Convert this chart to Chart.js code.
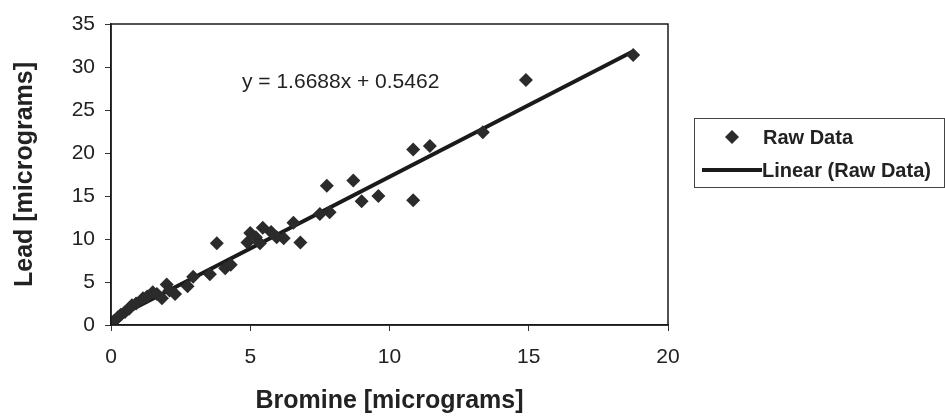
<!DOCTYPE html>
<html>
<head>
<meta charset="utf-8">
<script src="https://cdn.jsdelivr.net/npm/chart.js@4/dist/chart.umd.min.js"></script>
<style>
  html, body { margin: 0; padding: 0; background: #ffffff; }
  #wrap { width: 945px; height: 419px; }
</style>
</head>
<body>
<div id="wrap"><canvas id="chart" width="945" height="419"></canvas></div>
<script>
// Bromine (x) vs lead (y), micrograms
const bromine = [0, 0.05, 0.12, 0.25, 0.35, 0.5, 0.65, 0.75, 0.9, 1.15, 1.3, 1.5, 1.65, 1.83, 2.0, 2.1, 2.3,
  2.75, 2.95, 3.55, 3.8, 4.1, 4.3, 4.9, 5.0, 5.2, 5.35, 5.45, 5.75, 5.95, 6.2, 6.55, 6.8, 7.5, 7.75, 7.85,
  8.7, 9.0, 9.6, 10.85, 10.85, 11.45, 13.35, 14.9, 18.75];
const lead = [0, 0.3, 0.5, 0.9, 1.2, 1.5, 1.9, 2.3, 2.5, 3.1, 3.3, 3.8, 3.6, 3.1, 4.7, 4.0, 3.6,
  4.5, 5.6, 5.9, 9.5, 6.6, 7.0, 9.6, 10.7, 10.2, 9.5, 11.3, 10.8, 10.2, 10.1, 11.9, 9.6, 12.9, 16.2, 13.1,
  16.8, 14.4, 15.0, 20.4, 14.5, 20.8, 22.4, 28.5, 31.4];

// Excel trendline
const trendSlope = 1.6688;
const trendIntercept = 0.5462;
const trendRange = [0, 18.7];

const xTicks = [0, 5, 10, 15, 20];
const yTicks = [0, 5, 10, 15, 20, 25, 30, 35];

const FONT = "'Liberation Sans', Arial, sans-serif";
const INK = "#222222";

const rawPoints = bromine.map((b, i) => ({ x: b, y: lead[i] }));
const trendPoints = trendRange.map(x => ({ x: x, y: trendSlope * x + trendIntercept }));

// box round the plot, equation label and the framed legend on the right
const extras = {
  id: "extras",
  afterDraw(chart) {
    const ctx = chart.ctx;
    const a = chart.chartArea;
    ctx.save();
    ctx.strokeStyle = "#1a1a1a";
    ctx.lineWidth = 1.5;
    ctx.strokeRect(a.left, a.top, a.right - a.left, a.bottom - a.top);

    ctx.fillStyle = INK;
    ctx.font = "21px " + FONT;
    ctx.textAlign = "left";
    ctx.textBaseline = "middle";
    ctx.fillText(`y = ${trendSlope}x + ${trendIntercept}`, 242, 82);

    // legend
    ctx.strokeStyle = "#444444";
    ctx.lineWidth = 1;
    ctx.strokeRect(694.5, 118.5, 250, 69);
    ctx.fillStyle = "#2b2b2b";
    ctx.beginPath();
    ctx.moveTo(732 - 7, 137);
    ctx.lineTo(732, 137 - 7);
    ctx.lineTo(732 + 7, 137);
    ctx.lineTo(732, 137 + 7);
    ctx.closePath();
    ctx.fill();
    ctx.strokeStyle = "#1a1a1a";
    ctx.lineWidth = 4;
    ctx.beginPath();
    ctx.moveTo(702, 170);
    ctx.lineTo(762, 170);
    ctx.stroke();
    ctx.fillStyle = INK;
    ctx.font = "bold 20px " + FONT;
    ctx.fillText("Raw Data", 763, 138);
    ctx.fillText("Linear (Raw Data)", 762, 171);
    ctx.restore();
  }
};

new Chart(document.getElementById("chart"), {
  type: "scatter",
  data: {
    datasets: [
      {
        label: "Raw Data",
        data: rawPoints,
        pointStyle: "rectRot",
        pointRadius: 7,
        pointBorderWidth: 0,
        backgroundColor: "#2b2b2b",
        borderColor: "#2b2b2b"
      },
      {
        label: "Linear (Raw Data)",
        data: trendPoints,
        showLine: true,
        pointRadius: 0,
        borderColor: "#1a1a1a",
        borderWidth: 4
      }
    ]
  },
  options: {
    responsive: false,
    animation: false,
    devicePixelRatio: 1,
    layout: { padding: { left: 0, top: 24, right: 277, bottom: 0 } },
    plugins: {
      legend: { display: false },
      tooltip: { enabled: false }
    },
    scales: {
      x: {
        type: "linear",
        min: 0,
        max: 20,
        afterBuildTicks: s => { s.ticks = xTicks.map(v => ({ value: v })); },
        afterFit: s => { s.height = 94; },
        grid: { drawOnChartArea: false, drawTicks: true, tickLength: 6, color: "#333333" },
        border: { color: "#1a1a1a", width: 1.5 },
        ticks: { color: INK, font: { family: FONT, size: 21 }, padding: 14 },
        title: {
          display: true,
          text: "Bromine [micrograms]",
          color: INK,
          font: { family: FONT, size: 25, weight: "bold" },
          padding: { top: 0, bottom: 3 }
        }
      },
      y: {
        type: "linear",
        min: 0,
        max: 35,
        afterBuildTicks: s => { s.ticks = yTicks.map(v => ({ value: v })); },
        afterFit: s => { s.width = 111; },
        grid: { drawOnChartArea: false, drawTicks: true, tickLength: 6, color: "#333333" },
        border: { color: "#1a1a1a", width: 1.5 },
        ticks: { color: INK, font: { family: FONT, size: 21 }, padding: 10 },
        title: {
          display: true,
          text: "Lead [micrograms]",
          color: INK,
          font: { family: FONT, size: 25, weight: "bold" },
          padding: { top: 10, bottom: 0 }
        }
      }
    }
  },
  plugins: [extras]
});
</script>
</body>
</html>
